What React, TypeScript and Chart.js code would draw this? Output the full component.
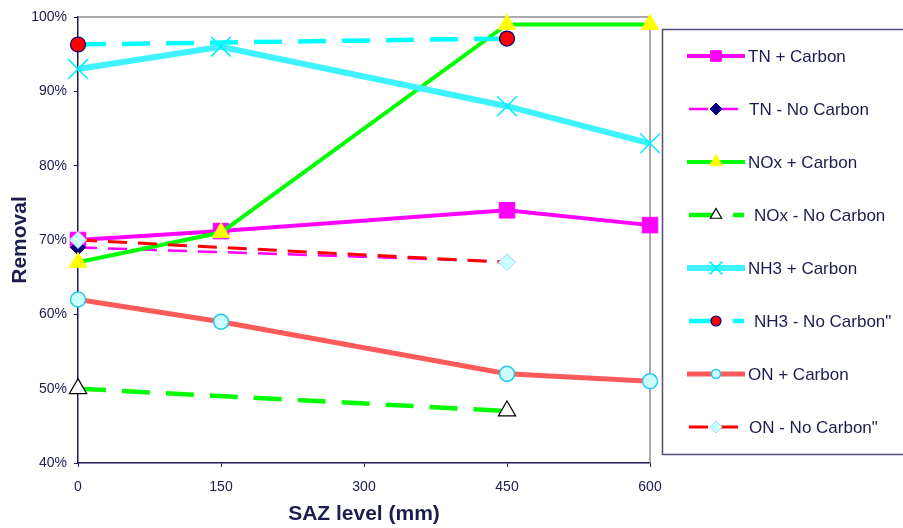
import React, { useEffect, useRef } from 'react';
import { Chart, registerables } from 'chart.js';
import { drawPoint } from 'chart.js/helpers';

Chart.register(...registerables);

// ---- Data (SAZ level in mm, removal in %) ----
const xLevels = [0, 150, 450, 600];
const tnCarbon = [70, 71.2, 74, 72];
const tnNoCarbonX = [0, 450];
const tnNoCarbon = [69, 67.1];
const noxCarbon = [67, 71, 99, 99];
const noxNoCarbonX = [0, 450];
const noxNoCarbon = [50, 47];
const nh3Carbon = [93, 96, 88, 83];
const nh3NoCarbonX = [0, 450];
const nh3NoCarbon = [96.3, 97.1];
const onCarbon = [62, 59, 52, 51];
const onNoCarbonX = [0, 450];
const onNoCarbon = [70, 67];

const seriesLabels = [
  'TN + Carbon',
  'TN - No Carbon',
  'NOx + Carbon',
  'NOx - No Carbon',
  'NH3 + Carbon',
  'NH3 - No Carbon"',
  'ON + Carbon',
  'ON - No Carbon"',
];

const xTickMin = 0;
const xTickMax = 600;
const xTickStep = 150;
const yTickMin = 40;
const yTickMax = 100;
const yTickStep = 10;

const xTitle = 'SAZ level (mm)';
const yTitle = 'Removal';

const FONT = '"Liberation Sans", Arial, Helvetica, sans-serif';
const NAVY_TEXT = '#1c1c4e';

const pts = (xs: number[], ys: number[]) => xs.map((x, i) => ({ x, y: ys[i] }));

const legendTextX = [748, 749, 748, 754, 748, 754, 748, 749];

const sideLegend = {
  id: 'sideLegend',
  afterDraw(chart: any) {
    const ctx = chart.ctx as CanvasRenderingContext2D;
    ctx.save();
    ctx.strokeStyle = '#4f4f7d';
    ctx.lineWidth = 1.5;
    ctx.strokeRect(662.5, 29.5, 300, 425);
    chart.data.datasets.forEach((ds: any, i: number) => {
      const y = 56 + i * 53;
      ctx.save();
      ctx.strokeStyle = ds.borderColor;
      ctx.lineWidth = ds.borderWidth;
      ctx.lineCap = 'butt';
      ctx.setLineDash(ds.borderDash || []);
      ctx.beginPath();
      ctx.moveTo(ds.legendX0, y);
      ctx.lineTo(ds.legendX1, y);
      ctx.stroke();
      ctx.restore();

      ctx.save();
      ctx.setLineDash([]);
      ctx.fillStyle = ds.pointBackgroundColor;
      ctx.strokeStyle = ds.pointBorderColor;
      ctx.lineWidth = ds.pointBorderWidth;
      drawPoint(
        ctx,
        { pointStyle: ds.pointStyle, radius: ds.legendRadius, borderWidth: ds.pointBorderWidth, rotation: 0 } as any,
        716,
        y
      );
      ctx.restore();

      ctx.fillStyle = NAVY_TEXT;
      ctx.font = `17px ${FONT}`;
      ctx.textBaseline = 'middle';
      ctx.textAlign = 'left';
      ctx.fillText(ds.label, legendTextX[i], y + 1);
    });
    ctx.restore();
  },
};

const frame = {
  id: 'frame',
  beforeDatasetsDraw(chart: any) {
    const { left, right, top, bottom } = chart.chartArea;
    const ctx = chart.ctx as CanvasRenderingContext2D;
    ctx.save();
    ctx.strokeStyle = '#8e8e8e';
    ctx.lineWidth = 1.5;
    ctx.beginPath();
    ctx.moveTo(left, top);
    ctx.lineTo(right, top);
    ctx.lineTo(right, bottom);
    ctx.stroke();
    ctx.restore();
  },
};

export default function App() {
  const canvasRef = useRef<HTMLCanvasElement | null>(null);

  useEffect(() => {
    if (!canvasRef.current) return;
    const n = seriesLabels.length;
    const datasets: any[] = [
      {
        label: seriesLabels[0],
        data: pts(xLevels, tnCarbon),
        borderColor: '#ff00ff',
        borderWidth: 4,
        pointStyle: 'rect',
        pointRadius: 11,
        legendRadius: 7.5,
        pointBackgroundColor: '#ff00ff',
        pointBorderColor: '#ff00ff',
        pointBorderWidth: 1,
        legendX0: 687,
        legendX1: 745,
      },
      {
        label: seriesLabels[1],
        data: pts(tnNoCarbonX, tnNoCarbon),
        borderColor: '#ff00ff',
        borderWidth: 2.5,
        borderDash: [19, 11],
        pointStyle: 'rectRot',
        pointRadius: 7.5,
        legendRadius: 6,
        pointBackgroundColor: '#000080',
        pointBorderColor: '#000080',
        pointBorderWidth: 1,
        legendX0: 689,
        legendX1: 738,
      },
      {
        label: seriesLabels[2],
        data: pts(xLevels, noxCarbon),
        borderColor: '#00ff00',
        borderWidth: 4,
        pointStyle: 'triangle',
        pointRadius: 10,
        legendRadius: 7.5,
        pointBackgroundColor: '#ffff00',
        pointBorderColor: '#ffff00',
        pointBorderWidth: 1,
        legendX0: 687,
        legendX1: 745,
      },
      {
        label: seriesLabels[3],
        data: pts(noxNoCarbonX, noxNoCarbon),
        borderColor: '#00ff00',
        borderWidth: 4.5,
        borderDash: [28, 16],
        pointStyle: 'triangle',
        pointRadius: 10,
        legendRadius: 6.5,
        pointBackgroundColor: '#ffffff',
        pointBorderColor: '#000000',
        pointBorderWidth: 1.2,
        legendX0: 689,
        legendX1: 744,
      },
      {
        label: seriesLabels[4],
        data: pts(xLevels, nh3Carbon),
        borderColor: '#3ef2ff',
        borderWidth: 6,
        pointStyle: 'crossRot',
        pointRadius: 14,
        legendRadius: 9,
        pointBackgroundColor: '#00ffff',
        pointBorderColor: '#00eeff',
        pointBorderWidth: 1.5,
        legendX0: 687,
        legendX1: 745,
      },
      {
        label: seriesLabels[5],
        data: pts(nh3NoCarbonX, nh3NoCarbon),
        borderColor: '#00ffff',
        borderWidth: 4.5,
        borderDash: [28, 16],
        pointStyle: 'circle',
        pointRadius: 7.5,
        legendRadius: 5,
        pointBackgroundColor: '#ff0000',
        pointBorderColor: '#000080',
        pointBorderWidth: 1.2,
        legendX0: 689,
        legendX1: 744,
      },
      {
        label: seriesLabels[6],
        data: pts(xLevels, onCarbon),
        borderColor: '#ff5a5a',
        borderWidth: 5,
        pointStyle: 'circle',
        pointRadius: 7.5,
        legendRadius: 4.5,
        pointBackgroundColor: '#ccffff',
        pointBorderColor: '#22c8f0',
        pointBorderWidth: 1.5,
        legendX0: 687,
        legendX1: 745,
      },
      {
        label: seriesLabels[7],
        data: pts(onNoCarbonX, onNoCarbon),
        borderColor: '#ff0000',
        borderWidth: 3,
        borderDash: [19, 11],
        pointStyle: 'rectRot',
        pointRadius: 8.5,
        legendRadius: 6,
        pointBackgroundColor: '#ccffff',
        pointBorderColor: '#a8dcec',
        pointBorderWidth: 1,
        legendX0: 689,
        legendX1: 738,
      },
    ];
    datasets.forEach((d, i) => {
      d.order = n - i;
      d.clip = false;
      d.tension = 0;
      d.fill = false;
      d.borderCapStyle = 'butt';
      d.pointHoverRadius = d.pointRadius;
    });

    const chart = new Chart(canvasRef.current, {
      type: 'line',
      data: { datasets },
      plugins: [frame, sideLegend],
      options: {
        animation: false,
        responsive: false,
        events: [],
        layout: { padding: { left: 0, top: 17, right: 253, bottom: 0 } },
        plugins: { legend: { display: false }, tooltip: { enabled: false } },
        scales: {
          x: {
            type: 'linear',
            min: xTickMin,
            max: xTickMax,
            afterFit: (s: any) => {
              s.height = 65;
            },
            ticks: {
              stepSize: xTickStep,
              color: NAVY_TEXT,
              font: { family: FONT, size: 14 },
              padding: 12,
              maxRotation: 0,
            },
            grid: { drawOnChartArea: false, drawTicks: true, tickLength: 4, color: '#1a1a55', lineWidth: 1 },
            border: { color: '#1a1a55', width: 1.5 },
            title: {
              display: true,
              text: xTitle,
              color: NAVY_TEXT,
              font: { family: FONT, size: 21, weight: 'bold' },
              padding: { top: 0, bottom: 1 },
            },
          },
          y: {
            type: 'linear',
            min: yTickMin,
            max: yTickMax,
            afterFit: (s: any) => {
              s.width = 78;
            },
            ticks: {
              stepSize: yTickStep,
              color: NAVY_TEXT,
              font: { family: FONT, size: 14 },
              padding: 7,
              callback: (v: any) => `${v}%`,
            },
            grid: { drawOnChartArea: false, drawTicks: true, tickLength: 4, color: '#1a1a55', lineWidth: 1 },
            border: { color: '#1a1a55', width: 1.5 },
            title: {
              display: true,
              text: yTitle,
              color: NAVY_TEXT,
              font: { family: FONT, size: 21, weight: 'bold' },
              padding: { top: 8, bottom: 0 },
            },
          },
        },
      } as any,
    });
    return () => chart.destroy();
  }, []);

  return (
    <div style={{ position: 'absolute', left: 0, top: 0, width: 903, height: 528, background: '#ffffff' }}>
      <canvas ref={canvasRef} width={903} height={528} style={{ display: 'block' }} />
    </div>
  );
}
